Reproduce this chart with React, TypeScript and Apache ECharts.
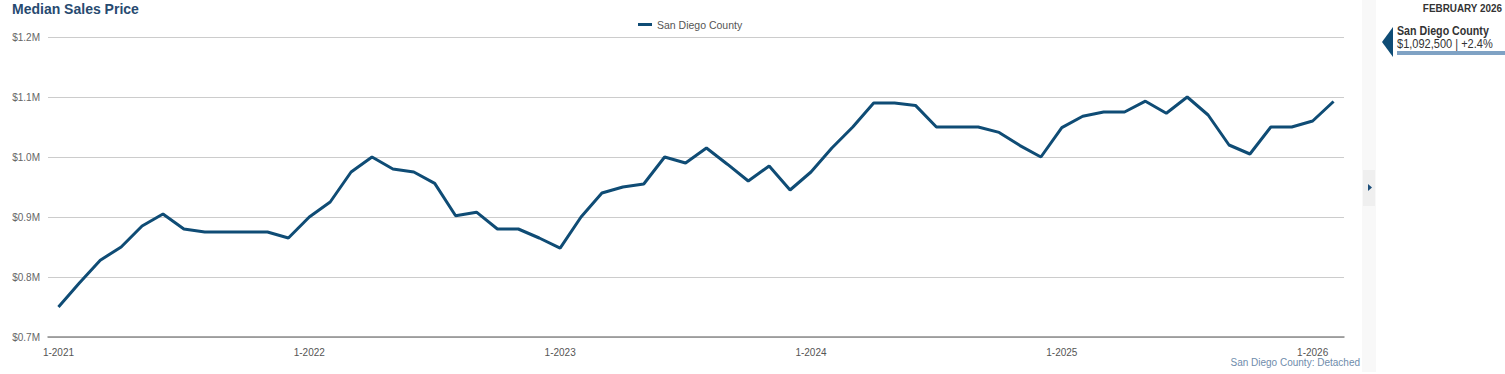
import React, { useEffect, useRef } from "react";
import * as echarts from "echarts";

const categories: string[] = [
  "1-2021", "2-2021", "3-2021", "4-2021", "5-2021", "6-2021", "7-2021", "8-2021", "9-2021", "10-2021", "11-2021", "12-2021",
  "1-2022", "2-2022", "3-2022", "4-2022", "5-2022", "6-2022", "7-2022", "8-2022", "9-2022", "10-2022", "11-2022", "12-2022",
  "1-2023", "2-2023", "3-2023", "4-2023", "5-2023", "6-2023", "7-2023", "8-2023", "9-2023", "10-2023", "11-2023", "12-2023",
  "1-2024", "2-2024", "3-2024", "4-2024", "5-2024", "6-2024", "7-2024", "8-2024", "9-2024", "10-2024", "11-2024", "12-2024",
  "1-2025", "2-2025", "3-2025", "4-2025", "5-2025", "6-2025", "7-2025", "8-2025", "9-2025", "10-2025", "11-2025", "12-2025",
  "1-2026", "2-2026",
];

const sanDiegoCounty: number[] = [
  750000, 790000, 828000, 850000, 885000, 905000, 880000, 875000, 875000, 875000, 875000, 865000,
  900000, 925000, 975000, 1000000, 980000, 975000, 956000, 902000, 908000, 880000, 880000, 865000,
  848000, 900000, 940000, 950000, 955000, 1000000, 990000, 1015000, 988000, 960000, 985000, 945000,
  975000, 1015000, 1050000, 1090000, 1090000, 1086000, 1050000, 1050000, 1050000, 1041000, 1019000, 1000000,
  1049000, 1068000, 1075000, 1075000, 1093000, 1073000, 1100000, 1070000, 1020000, 1005000, 1050000, 1050000,
  1060000, 1092500,
];

const seriesName = "San Diego County";
const yTickValues: number[] = [700000, 800000, 900000, 1000000, 1100000, 1200000];
const panelMonth = "FEBRUARY 2026";
const panelValue = "$1,092,500 | +2.4%";
const footnote = "San Diego County: Detached";

const LINE_COLOR = "#0f4c75";
const FONT = "Arial, 'Liberation Sans', sans-serif";

export default function App() {
  const ref = useRef<HTMLDivElement>(null);

  useEffect(() => {
    if (!ref.current) return;
    const chart = echarts.init(ref.current, undefined, { renderer: "svg" });
    chart.setOption({
      animation: false,
      backgroundColor: "#ffffff",
      textStyle: { fontFamily: FONT },
      title: {
        text: "Median Sales Price",
        left: 12,
        top: 2,
        padding: 0,
        textStyle: { fontSize: 14, fontWeight: "bold", color: "#274a70", fontFamily: FONT },
      },
      legend: {
        data: [seriesName],
        left: 638,
        top: 19,
        padding: 0,
        itemWidth: 14,
        itemHeight: 3,
        itemGap: 5,
        icon: "rect",
        textStyle: { fontSize: 10.5, color: "#555555", fontFamily: FONT },
      },
      grid: { left: 48, right: 161, top: 37, bottom: 37, containLabel: false },
      xAxis: {
        type: "category",
        data: categories,
        boundaryGap: true,
        axisLine: { lineStyle: { color: "#8c8c8c", width: 1.5 } },
        axisTick: {
          alignWithLabel: true,
          length: 4,
          interval: (i: number) => i % 12 === 0,
          lineStyle: { color: "#8c8c8c" },
        },
        axisLabel: {
          interval: (i: number) => i % 12 === 0,
          margin: 10,
          fontSize: 10,
          color: "#555555",
          fontFamily: FONT,
        },
        splitLine: { show: false },
      },
      yAxis: {
        type: "value",
        min: yTickValues[0],
        max: yTickValues[yTickValues.length - 1],
        interval: 100000,
        axisLine: { show: false },
        axisTick: { show: false },
        axisLabel: {
          margin: 8,
          fontSize: 10,
          color: "#666666",
          fontFamily: FONT,
          formatter: (v: number) => `$${(v / 1000000).toFixed(1)}M`,
        },
        splitLine: { lineStyle: { color: "#cccccc", width: 1 } },
      },
      series: [
        {
          name: seriesName,
          type: "line",
          data: sanDiegoCounty,
          showSymbol: false,
          symbol: "none",
          lineStyle: { color: LINE_COLOR, width: 3 },
          itemStyle: { color: LINE_COLOR },
        },
      ],
      graphic: [
        { type: "rect", shape: { x: 1362, y: 0, width: 14, height: 372 }, style: { fill: "#f8f8f8" }, silent: true },
        { type: "rect", shape: { x: 1363, y: 170, width: 12, height: 36 }, style: { fill: "#efefef" }, silent: true },
        { type: "polygon", shape: { points: [[1368, 184], [1372, 187.5], [1368, 191]] }, style: { fill: "#1d4f7a" }, silent: true },
        {
          type: "text",
          x: 1502,
          y: 3,
          scaleX: 0.9,
          style: { text: panelMonth, fontSize: 11, fontWeight: "bold", fill: "#333333", fontFamily: FONT, align: "right" },
        },
        { type: "polygon", shape: { points: [[1393, 27], [1382, 42], [1393, 57]] }, style: { fill: "#0f4c75" }, silent: true },
        {
          type: "text",
          x: 1397,
          y: 25,
          scaleX: 0.89,
          style: { text: seriesName, fontSize: 12, fontWeight: "bold", fill: "#333333", fontFamily: FONT },
        },
        {
          type: "text",
          x: 1397,
          y: 37.5,
          scaleX: 0.92,
          style: { text: panelValue, fontSize: 12, fill: "#333333", fontFamily: FONT },
        },
        { type: "rect", shape: { x: 1397, y: 51, width: 108, height: 4 }, style: { fill: "#7fa2c4" }, silent: true },
        {
          type: "text",
          right: 145,
          y: 357,
          style: { text: footnote, fontSize: 10, fill: "#6f8cab", fontFamily: FONT },
        },
      ],
    });
    return () => chart.dispose();
  }, []);

  return (
    <div
      ref={ref}
      style={{ position: "fixed", left: 0, top: 0, width: 1505, height: 374, background: "#ffffff" }}
    />
  );
}
